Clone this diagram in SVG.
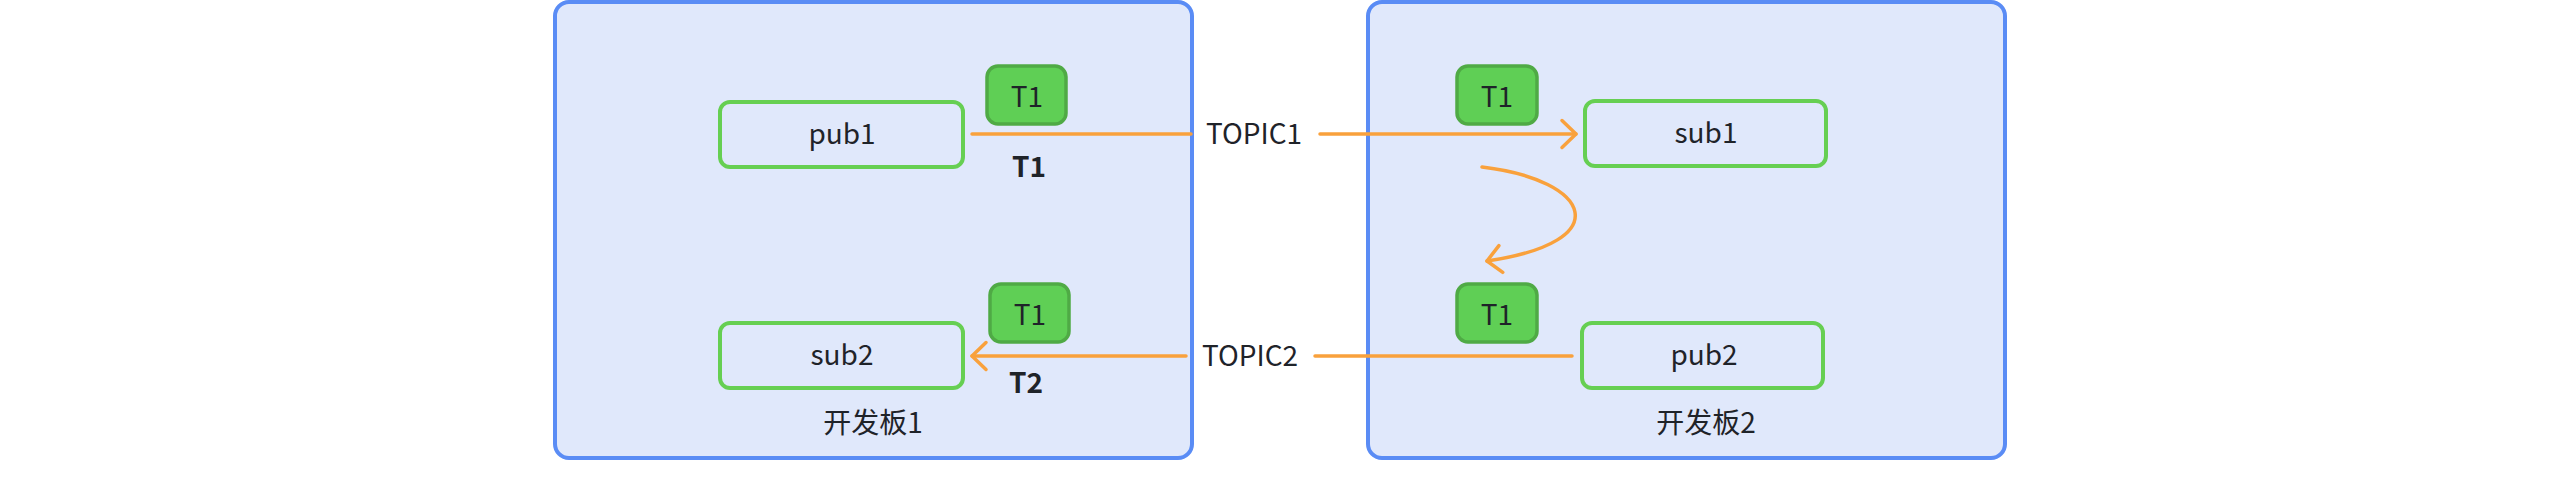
<svg xmlns="http://www.w3.org/2000/svg" width="2560" height="488" viewBox="0 0 2560 488">
<style>
.board{fill:#e0e8fb;stroke:#5a8cf5;stroke-width:4}
.node{fill:none;stroke:#66cf52;stroke-width:4}
.badge{fill:#5fcf55;stroke:#4faa45;stroke-width:3.5}
.t{font-family:"Noto Sans CJK SC","Noto Sans",sans-serif;font-size:28px;fill:#1f2329;text-anchor:middle}
.b{font-weight:bold}
.edge{fill:none;stroke:#f9a13c;stroke-width:3.5;stroke-linecap:round}
</style>
<defs>
<marker id="arr" markerUnits="userSpaceOnUse" markerWidth="34" markerHeight="34" viewBox="-18 -17 22 34" refX="0" refY="0" orient="auto">
<path d="M-14,-13.5 L0,0 L-14,13.5" fill="none" stroke="#f9a13c" stroke-width="3.5" stroke-linecap="round" stroke-linejoin="round"/>
</marker>
</defs>
<rect width="2560" height="488" fill="#ffffff"/>
<g id="board1">
<rect class="board" x="555" y="2" width="637" height="456" rx="14"/>
<text class="t" x="873" y="433">开发板1</text>
</g>
<g id="board2">
<rect class="board" x="1368" y="2" width="637" height="456" rx="14"/>
<text class="t" x="1706" y="433">开发板2</text>
</g>
<g id="edges">
<line class="edge" x1="972" y1="134" x2="1191" y2="134"/>
<line class="edge" x1="1320" y1="134" x2="1576" y2="134" marker-end="url(#arr)"/>
<path class="edge" d="M1482,167 C1592,180 1618,242 1487,261" marker-end="url(#arr)"/>
<line class="edge" x1="1572" y1="356" x2="1315" y2="356"/>
<line class="edge" x1="1186" y1="356" x2="972" y2="356" marker-end="url(#arr)"/>
<text class="t" x="1254" y="144">TOPIC1</text>
<text class="t" x="1250" y="366">TOPIC2</text>
<text class="t b" x="1029" y="177">T1</text>
<text class="t b" x="1026" y="393">T2</text>
</g>
<g id="pub1">
<rect class="node" x="720" y="102" width="243" height="65" rx="10"/>
<text class="t" x="842" y="144">pub1</text>
</g>
<g id="sub2">
<rect class="node" x="720" y="323" width="243" height="65" rx="10"/>
<text class="t" x="842" y="365">sub2</text>
</g>
<g id="sub1">
<rect class="node" x="1585" y="101" width="241" height="65" rx="10"/>
<text class="t" x="1706" y="143">sub1</text>
</g>
<g id="pub2">
<rect class="node" x="1582" y="323" width="241" height="65" rx="10"/>
<text class="t" x="1704" y="365">pub2</text>
</g>
<g id="badge1">
<rect class="badge" x="987" y="66" width="79" height="58" rx="11"/>
<text class="t" x="1027" y="107">T1</text>
</g>
<g id="badge2">
<rect class="badge" x="990" y="284" width="79" height="58" rx="11"/>
<text class="t" x="1030" y="325">T1</text>
</g>
<g id="badge3">
<rect class="badge" x="1457" y="66" width="80" height="58" rx="11"/>
<text class="t" x="1497" y="107">T1</text>
</g>
<g id="badge4">
<rect class="badge" x="1457" y="284" width="80" height="58" rx="11"/>
<text class="t" x="1497" y="325">T1</text>
</g>
</svg>
